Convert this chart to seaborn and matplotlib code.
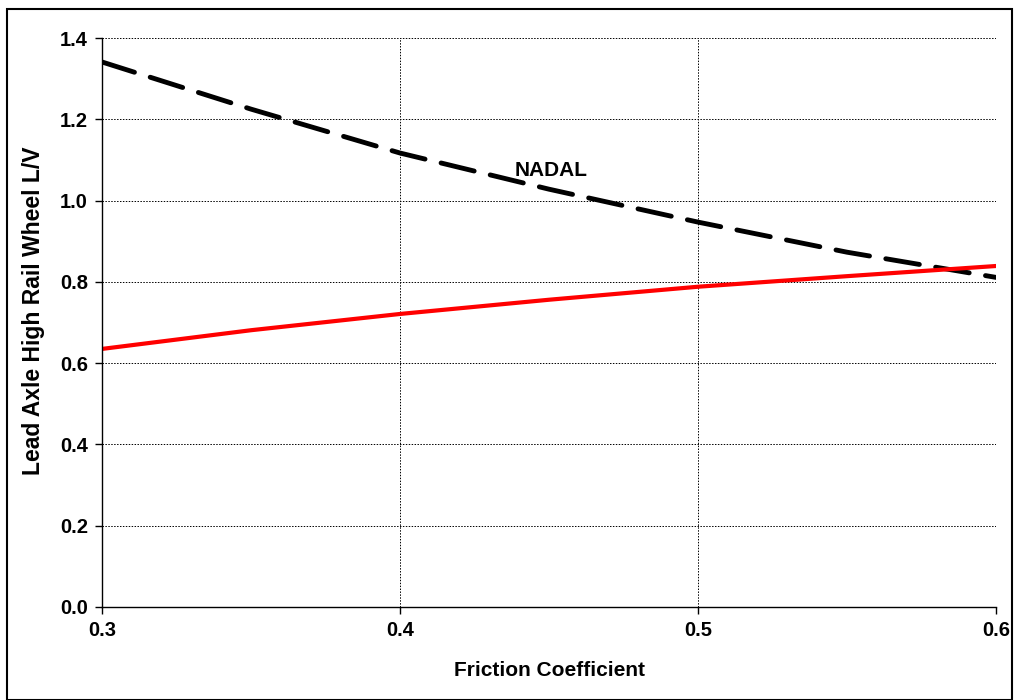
import matplotlib
matplotlib.use("Agg")
import matplotlib.pyplot as plt
import seaborn as sns
import pandas as pd
from matplotlib.patches import Rectangle

friction = [0.30, 0.35, 0.40, 0.45, 0.50, 0.55, 0.60]
nadal = [1.341, 1.225, 1.117, 1.028, 0.947, 0.873, 0.811]
lead_lv = [0.635, 0.681, 0.721, 0.756, 0.788, 0.814, 0.839]
x_ticks = [0.3, 0.4, 0.5, 0.6]
y_ticks = [0.0, 0.2, 0.4, 0.6, 0.8, 1.0, 1.2, 1.4]

sns.set_theme(style="white")
plt.rcParams['font.family'] = ['Liberation Sans', 'DejaVu Sans']
plt.rcParams['font.weight'] = 'bold'
plt.rcParams['text.color'] = 'black'
plt.rcParams['axes.labelcolor'] = 'black'
plt.rcParams['xtick.color'] = 'black'
plt.rcParams['ytick.color'] = 'black'

fig = plt.figure(figsize=(10.14, 7.0), dpi=100)
ax = fig.add_axes([102/1014, 93/700, 894/1014, 569/700])

df = pd.DataFrame({"x": friction, "nadal": nadal, "lv": lead_lv})
sns.lineplot(data=df, x="x", y="nadal", ax=ax, color="black", linewidth=3.5,
             linestyle=(0, (7.0, 3.4)), dash_capstyle="round")
sns.lineplot(data=df, x="x", y="lv", ax=ax, color="#ff0000", linewidth=3.0)

ax.set_xlim(0.3, 0.6)
ax.set_ylim(0, 1.4)
ax.set_xticks(x_ticks)
ax.set_yticks(y_ticks)
ax.set_xticklabels([f"{v:.1f}" for v in x_ticks], fontsize=14.5, fontweight='bold')
ax.set_yticklabels([f"{v:.1f}" for v in y_ticks], fontsize=14.5, fontweight='bold')
ax.grid(True, color="black", linestyle=(0, (1.5, 1.5)), linewidth=0.7)
for s in ["top", "right"]:
    ax.spines[s].set_visible(False)
for s in ["left", "bottom"]:
    ax.spines[s].set_color("black")
    ax.spines[s].set_linewidth(1.0)
ax.tick_params(axis="both", direction="out", length=5, width=1, color="black",
               left=True, bottom=True, pad=5)
ax.set_xlabel("Friction Coefficient", fontsize=15, fontweight='bold', labelpad=15)
ax.set_ylabel("Lead Axle High Rail Wheel L/V", fontsize=16.5, fontweight='bold')
ax.yaxis.set_label_coords(-0.064, 0.52)
ax.text(0.4507, 1.075, "NADAL", fontsize=15, fontweight='bold', ha="center", va="center")

fig.patches.append(Rectangle((7/1014, 0), 1005/1014, 691/700, transform=fig.transFigure,
                             fill=False, edgecolor="black", linewidth=1.5))

fig.savefig("out.png", dpi=100)
